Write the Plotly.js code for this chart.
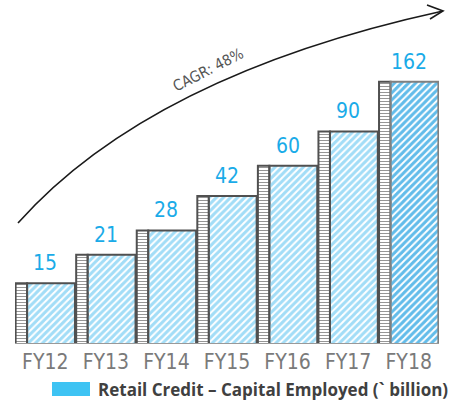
<!DOCTYPE html>
<html>
<head>
<meta charset="utf-8">
<script src="https://cdn.plot.ly/plotly-3.0.1.min.js"></script>
<style>html,body{margin:0;padding:0;background:#fff}#chart{width:470px;height:403px}</style>
</head>
<body>
<div id="chart"></div>
<script>
const categories = ["FY12","FY13","FY14","FY15","FY16","FY17","FY18"];
const values = [15, 21, 28, 42, 60, 90, 162];
const seriesName = "Retail Credit \u2013 Capital Employed (` billion)";
const cagrLabel = "CAGR: 48%";

// layout geometry (pixels)
const W = 470, H = 403, ML = 15, MR = 31, MT = 10, MB = 60;
const PW = W - ML - MR, PH = H - MT - MB;
const px = x => (x - ML) / PW;
const py = y => (H - MB - y) / PH;

const condensed = "Liberation Sans Narrow, DejaVu Sans Condensed, sans-serif";
const fg = values.map((v, i) => i === values.length - 1 ? "#0a86c9" : "#1aa9ea");
const bg = values.map((v, i) => i === values.length - 1 ? "#62bcea" : "#a2ddf7");
const edge = values.map((v, i) => i === values.length - 1 ? "#808080" : "#505050");

const side = {
  type: "bar", x: categories, y: values, offset: -0.49, width: 0.19, opacity: 1,
  marker: {color: "#ffffff", opacity: 1, line: {color: "#505050", width: 2},
           pattern: {shape: "-", fgcolor: "#8a8a8a", bgcolor: "#ffffff", fgopacity: 1, size: 3, solidity: 0.3}},
  showlegend: false, hoverinfo: "skip"
};
const front = {
  type: "bar", x: categories, y: values, offset: -0.30, width: 0.79, name: seriesName, opacity: 1,
  marker: {color: bg, opacity: 1, line: {color: edge, width: 2},
           pattern: {shape: "/", fgcolor: fg, bgcolor: bg, fgopacity: 1, size: 5, solidity: 0.6}},
  showlegend: false
};

const annotations = categories.map((c, i) => ({
  x: c, y: Math.log10(values[i]), xref: "x", yref: "y", text: String(values[i]),
  showarrow: false, yanchor: "bottom", yshift: 6,
  font: {family: condensed, size: 21, color: "#1aabe8"}
}));
annotations.push({
  x: px(208), y: py(42), xref: "paper", yref: "paper", text: cagrLabel, showarrow: false,
  textangle: -27, font: {family: condensed, size: 15, color: "#555555"}
});
annotations.push({
  x: px(96), y: py(389), xref: "paper", yref: "paper", text: "<b>" + seriesName + "</b>",
  showarrow: false, xanchor: "left", yanchor: "middle",
  font: {family: "Open Sans, sans-serif", size: 17, color: "#404040"}
});

const curve = `M ${px(18)} ${py(223)} Q ${px(150)} ${py(75)} ${px(443)} ${py(11)}`;
const head = `M ${px(427)} ${py(5)} L ${px(443)} ${py(11)} L ${px(430)} ${py(19)}`;

const shapes = [
  {type: "path", xref: "paper", yref: "paper", path: curve, line: {color: "#1a1a1a", width: 1.6}},
  {type: "path", xref: "paper", yref: "paper", path: head, line: {color: "#1a1a1a", width: 1.6}},
  {type: "rect", xref: "paper", yref: "paper", x0: px(52), x1: px(90), y0: py(382), y1: py(396),
   fillcolor: "#3ec3f3", line: {width: 0}}
];

const layout = {
  width: W, height: H, margin: {l: ML, r: MR, t: MT, b: MB},
  paper_bgcolor: "#ffffff", plot_bgcolor: "#ffffff",
  barmode: "overlay", showlegend: false,
  xaxis: {type: "category", showgrid: false, zeroline: false, showline: true, linecolor: "#999999", linewidth: 1,
          ticks: "", tickfont: {family: condensed, size: 21, color: "#7a7a7a"}},
  yaxis: {type: "log", range: [0.870, 0.870 + PH / 195.1], visible: false, showgrid: false, zeroline: false},
  annotations: annotations, shapes: shapes
};

Plotly.newPlot("chart", [side, front], layout, {displayModeBar: false, staticPlot: true});
</script>
</body>
</html>
